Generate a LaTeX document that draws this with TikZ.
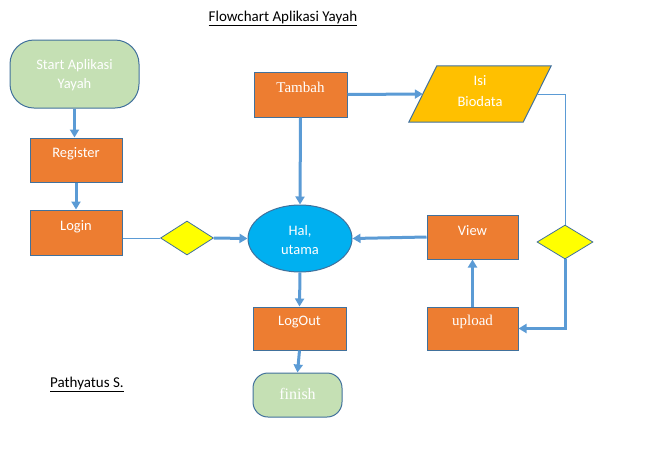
\documentclass[tikz,border=0pt]{standalone}
\usepackage{fontspec}
\setmainfont{Carlito}
\newfontfamily\serifft{Liberation Serif}
\usetikzlibrary{shapes.geometric,arrows.meta}
\definecolor{borderc}{HTML}{41719C}
\definecolor{orangec}{HTML}{ED7D31}
\definecolor{greenc}{HTML}{C5E0B4}
\definecolor{bluec}{HTML}{00B0F0}
\definecolor{yellowc}{HTML}{FFFF00}
\definecolor{goldc}{HTML}{FFC000}
\definecolor{arrowc}{HTML}{5B9BD5}
\tikzset{
  box/.style={draw=borderc, line width=1pt, fill=orangec, inner sep=0pt},
  term/.style={draw=borderc, line width=1pt, fill=greenc, inner sep=0pt},
  dec/.style={diamond, draw=borderc, line width=0.8pt, fill=yellowc, inner sep=0pt, aspect=1.6},
  wtext/.style={text=white, font=\fontsize{14.5}{19}\selectfont, align=center, inner sep=0pt},
  stext/.style={text=white, font=\serifft\fontsize{15}{19}\selectfont, align=center, inner sep=0pt},
  btext/.style={text=black, font=\fontsize{15}{19}\selectfont, inner sep=0pt},
  thick arrow/.style={draw=arrowc, line width=3pt, -{Triangle[width=9pt,length=8pt]}},
  thin line/.style={draw=arrowc, line width=1pt},
}
\begin{document}
\begin{tikzpicture}[x=1pt,y=-1pt]
\useasboundingbox (0,0) rectangle (655,448);
% title and author
\node[btext] (title) at (283,18) {\underline{Flowchart Aplikasi Yayah}};
\node[btext] (author) at (87,384) {\underline{Pathyatus S.}};
% shapes
\node[term, rounded corners=24pt, minimum width=129pt, minimum height=68pt] (start) at (74.5,74) {};
\node[box, minimum width=92pt, minimum height=44pt] (register) at (76,160) {};
\node[box, minimum width=92pt, minimum height=45pt] (login) at (76,232.5) {};
\node[dec, minimum width=53pt, minimum height=34pt] (d1) at (187,238) {};
\node[ellipse, draw=borderc, line width=1pt, fill=bluec, minimum width=104pt, minimum height=67pt, inner sep=0pt] (hal) at (300,238.5) {};
\node[box, minimum width=93pt, minimum height=45pt] (tambah) at (300.5,94.5) {};
% parallelogram (input): invisible anchor box spanning the slanted edges' midpoints
\node[minimum width=114pt, minimum height=56pt, inner sep=0pt] (isi) at (480,94) {};
\draw[draw=borderc, line width=1pt, fill=goldc]
  ([xshift=14pt]isi.north west) -- ([xshift=14pt]isi.north east) --
  ([xshift=-14pt]isi.south east) -- ([xshift=-14pt]isi.south west) -- cycle;
\node[dec, minimum width=56pt, minimum height=34pt] (d2) at (565,242) {};
\node[box, minimum width=91pt, minimum height=44pt] (view) at (472.5,237) {};
\node[box, minimum width=91pt, minimum height=43pt] (upload) at (472.5,328.5) {};
\node[box, minimum width=93pt, minimum height=43pt] (logout) at (299.5,328.5) {};
\node[term, rounded corners=15pt, minimum width=89pt, minimum height=44pt] (finish) at (297.5,395) {};
% texts
\node[wtext] (tstart) at (74.5,75) {Start Aplikasi\\Yayah};
\node[wtext] (tregister) at (76,154) {Register};
\node[wtext] (tlogin) at (76,227) {Login};
\node[wtext] (thal) at (300,240.5) {Hal,\\utama};
\node[stext] (ttambah) at (300.5,87) {Tambah};
\node[wtext, font=\fontsize{14.5}{21}\selectfont] (tisi) at (480,91.5) {Isi\\Biodata};
\node[wtext] (tview) at (472.5,231) {View};
\node[stext] (tupload) at (472.5,322) {upload};
\node[wtext] (tlogout) at (299.5,322) {LogOut};
\node[stext, font=\serifft\fontsize{16}{19}\selectfont] (tfinish) at (297.5,394) {finish};
% connectors
\draw[thick arrow] (start.south) -- (start.south |- register.north);
\draw[thick arrow] (register.south) -- (login.north);
\draw[thin line] (d1.west -| login.east) -- (d1.west);
\draw[thick arrow] (d1.east) -- (hal.west);
\draw[thick arrow] (tambah.south) -- (hal.north);
\draw[thick arrow] (tambah.east) -- (isi.west);
\draw[thin line] (isi.east) -| (d2.north);
\draw[thick arrow] (d2.south) |- (upload.east);
\draw[thick arrow] (upload.north) -- (view.south);
\draw[thick arrow] (view.west) -- (hal.east);
\draw[thick arrow] (hal.south) -- (logout.north);
\draw[thick arrow] (logout.south) -- (finish.north);
\end{tikzpicture}
\end{document}
